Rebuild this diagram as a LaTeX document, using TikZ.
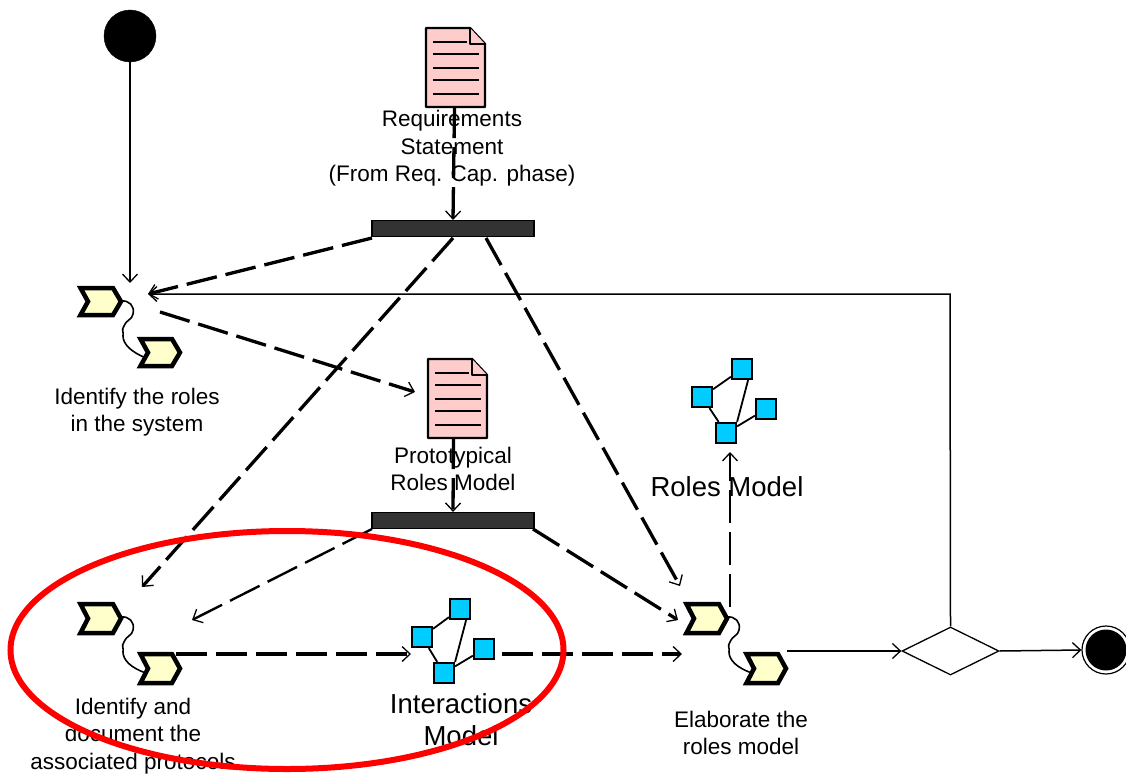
\documentclass[tikz,border=0pt]{standalone}
\usepackage{fontspec}
\setmainfont{Liberation Sans}
\usetikzlibrary{arrows.meta,shapes.geometric}
\definecolor{chevfill}{HTML}{FFFFCC}
\definecolor{docfill}{HTML}{FFCCCC}
\definecolor{netfill}{HTML}{00CCFF}
\definecolor{barfill}{HTML}{333333}
\definecolor{ringred}{HTML}{FF0000}
\tikzset{
  x=1pt,y=-1pt,
  barb/.style={-{Straight Barb[length=8pt,width=15pt,line width=1.3pt]}},
  solidflow/.style={draw=black,line width=1.5pt,barb},
  dashflow/.style={draw=black,line width=3.3pt,dash pattern=on 31pt off 9pt,barb},
  dashthin/.style={draw=black,line width=2.4pt,dash pattern=on 33pt off 9pt,barb},
  chevshape/.style={draw=black,line width=4.5pt,fill=chevfill,line join=miter},
  docshape/.style={draw=black,line width=2.4pt,fill=docfill,line join=round},
  docline/.style={draw=black,line width=1.8pt},
  netbox/.style={draw=black,line width=2.2pt,fill=netfill,minimum size=20pt,inner sep=0pt,rectangle},
  netlink/.style={draw=black,line width=1.8pt},
  barshape/.style={draw=black,line width=1.2pt,fill=barfill,rectangle,inner sep=0pt,minimum width=162pt,minimum height=16pt},
  squig/.style={draw=black,line width=1.6pt},
  label/.style={align=center,inner sep=0pt,font=\fontsize{22.5}{27.5}\selectfont},
  biglabel/.style={align=center,inner sep=0pt,font=\fontsize{27.5}{32}\selectfont},
}
% chevron pair: #1 prefix, #2,#3 left/top of first, #4,#5 left/top of second, #6 height
\newcommand{\chevpair}[6]{%
  \coordinate (#1a) at (#2+22,#3+15);
  \coordinate (#1b) at (#4+22,#5+15);
  \draw[squig] (#2+44,#3+15) .. controls (#2+52,#3+14) and (#2+58,#3+20) .. (#2+56,#3+28)
     .. controls (#2+55,#3+34) and (#2+50,#3+33) .. (#2+47,#3+40)
     .. controls (#2+44,#3+44) and (#2+47,#3+46) .. (#2+46,#3+50)
     .. controls (#2+46,#3+58) and (#2+54,#3+66) .. (#4+9,#5+21);
  \draw[chevshape] (#2+3.5,#3+2) -- (#2+36,#3+2) -- (#2+44,#3+#6/2) -- (#2+36,#3+#6-2) -- (#2+3.5,#3+#6-2) -- (#2+11,#3+#6/2) -- cycle;
  \draw[chevshape] (#4+3.5,#5+2) -- (#4+35,#5+2) -- (#4+43,#5+#6/2) -- (#4+35,#5+#6-2) -- (#4+3.5,#5+#6-2) -- (#4+11,#5+#6/2) -- cycle;
}
% document: #1 name, #2,#3 left/top
\newcommand{\docicon}[3]{%
  \node[inner sep=0pt,minimum width=59pt,minimum height=79pt] (#1) at (#2+29.5,#3+39.5) {};
  \draw[docshape] (#2,#3) -- (#2+44,#3) -- (#2+59,#3+16) -- (#2+59,#3+79) -- (#2,#3+79) -- cycle;
  \draw[docshape] (#2+44,#3) -- (#2+44,#3+16) -- (#2+59,#3+16);
  \draw[docline] (#2+7,#3+14) -- (#2+41,#3+14);
  \draw[docline] (#2+7,#3+26) -- (#2+53,#3+26);
  \draw[docline] (#2+7,#3+40) -- (#2+53,#3+40);
  \draw[docline] (#2+7,#3+52) -- (#2+53,#3+52);
  \draw[docline] (#2+7,#3+66) -- (#2+53,#3+66);
}
% network: #1 prefix, #2,#3 offset, #4 extra x shift of left box
\newcommand{\neticon}[4]{%
  \node[netbox] (#1l) at (#2+422+#4,#3+637) {};
  \node[netbox] (#1t) at (#2+460,#3+609) {};
  \node[netbox] (#1r) at (#2+484,#3+649) {};
  \node[netbox] (#1b) at (#2+444,#3+673) {};
  \draw[netlink] (#1l) -- (#1t);
  \draw[netlink] (#1l) -- (#1b);
  \draw[netlink] (#1t.south east) ++(-5,0) -- (#1b.north east);
  \draw[netlink] (#1b) -- (#1r);
}
\begin{document}
\begin{tikzpicture}
\useasboundingbox (0,0) rectangle (1126,773);

% start / end
\node[circle,fill=black,draw=black,minimum size=52pt,inner sep=0pt] (start) at (130,36) {};
\node[circle,draw=black,line width=1.2pt,fill=white,minimum size=48pt,inner sep=0pt] (endring) at (1106,650) {};
\node[circle,fill=black,minimum size=41pt,inner sep=0pt] (enddot) at (1106,650) {};

% activities
\chevpair{ida}{77}{286}{137}{337}{31}
\chevpair{idb}{77}{602}{137}{652}{33}
\chevpair{el}{683}{602}{743}{652}{33}

% documents
\docicon{docA}{426}{28}
\docicon{docB}{428}{359}

% bars
\node[barshape] (barA) at (453,228.5) {};
\node[barshape] (barB) at (453,520.5) {};

% networks
\neticon{im}{0}{0}{0}
\neticon{rm}{282}{-240}{-2}

% decision
\node[diamond,draw=black,line width=1.3pt,fill=white,minimum width=97pt,minimum height=48pt,inner sep=0pt,aspect=2] (dec) at (950.5,651) {};

% connector ends
\coordinate (p1) at (130,283);
\coordinate (p2) at (148,294);
\coordinate (p3) at (142,587);
\coordinate (p4) at (680,586);
\coordinate (p5) at (192,620);
\coordinate (p6) at (678,620);
\coordinate (p7) at (160,312);
\coordinate (p8) at (415,392);
\coordinate (p9) at (176,654);
\coordinate (p10) at (411,654);
\coordinate (p11) at (502,654);
\coordinate (p12) at (682,654);
\coordinate (p13) at (730,607);
\coordinate (p14) at (730,452);
\coordinate (p15) at (787,651);
\coordinate (a1) at (372,238);
\coordinate (a2) at (453,238);
\coordinate (a3) at (486,238);
\coordinate (b1) at (372,529);
\coordinate (b2) at (533,529);
\coordinate (turn) at (950,294);

% connectors
\draw[solidflow] (start.south) -- (p1);
\draw[solidflow] (dec.north) -- (turn) -- (p2);
\draw[solidflow] (p15) -- (dec.west);
\draw[solidflow] (dec.east) -- (endring.west);
\draw[dashflow] (docA.south) ++(-1,0) -- (barA.north);
\draw[dashflow] (a1) -- (p2);
\draw[dashflow] (a2) -- (p3);
\draw[dashflow] (a3) -- (p4);
\draw[dashflow] (p7) -- (p8);
\draw[dashflow] (docB.south) ++(-4,0) -- (barB.north);
\draw[dashthin] (b1) -- (p5);
\draw[dashflow] (b2) -- (p6);
\draw[dashflow] (p9) -- (p10);
\draw[dashflow] (p11) -- (p12);
\draw[dashthin] (p13) -- (p14);

% labels
\node[label] (tA) at (452,148.5) {Requirements\\Statement\\(From Req. Cap. phase)};
\node[label] (tB) at (137,412) {Identify the roles\\in the system};
\node[label] (tC) at (453,469) {Prototypical\\Roles Model};
\node[biglabel] (tD) at (727,487) {Roles Model};
\node[biglabel] (tE) at (461,720) {Interactions\\Model};
\node[label] (tF) at (133,736) {Identify and\\document the\\associated protocols};
\node[label] (tG) at (741,733) {Elaborate the\\roles model};

% red ring, over the labels
\node[ellipse,draw=ringred,line width=6pt,minimum width=553pt,minimum height=238pt,inner sep=0pt] (ring) at (287,650) {};
\end{tikzpicture}
\end{document}
